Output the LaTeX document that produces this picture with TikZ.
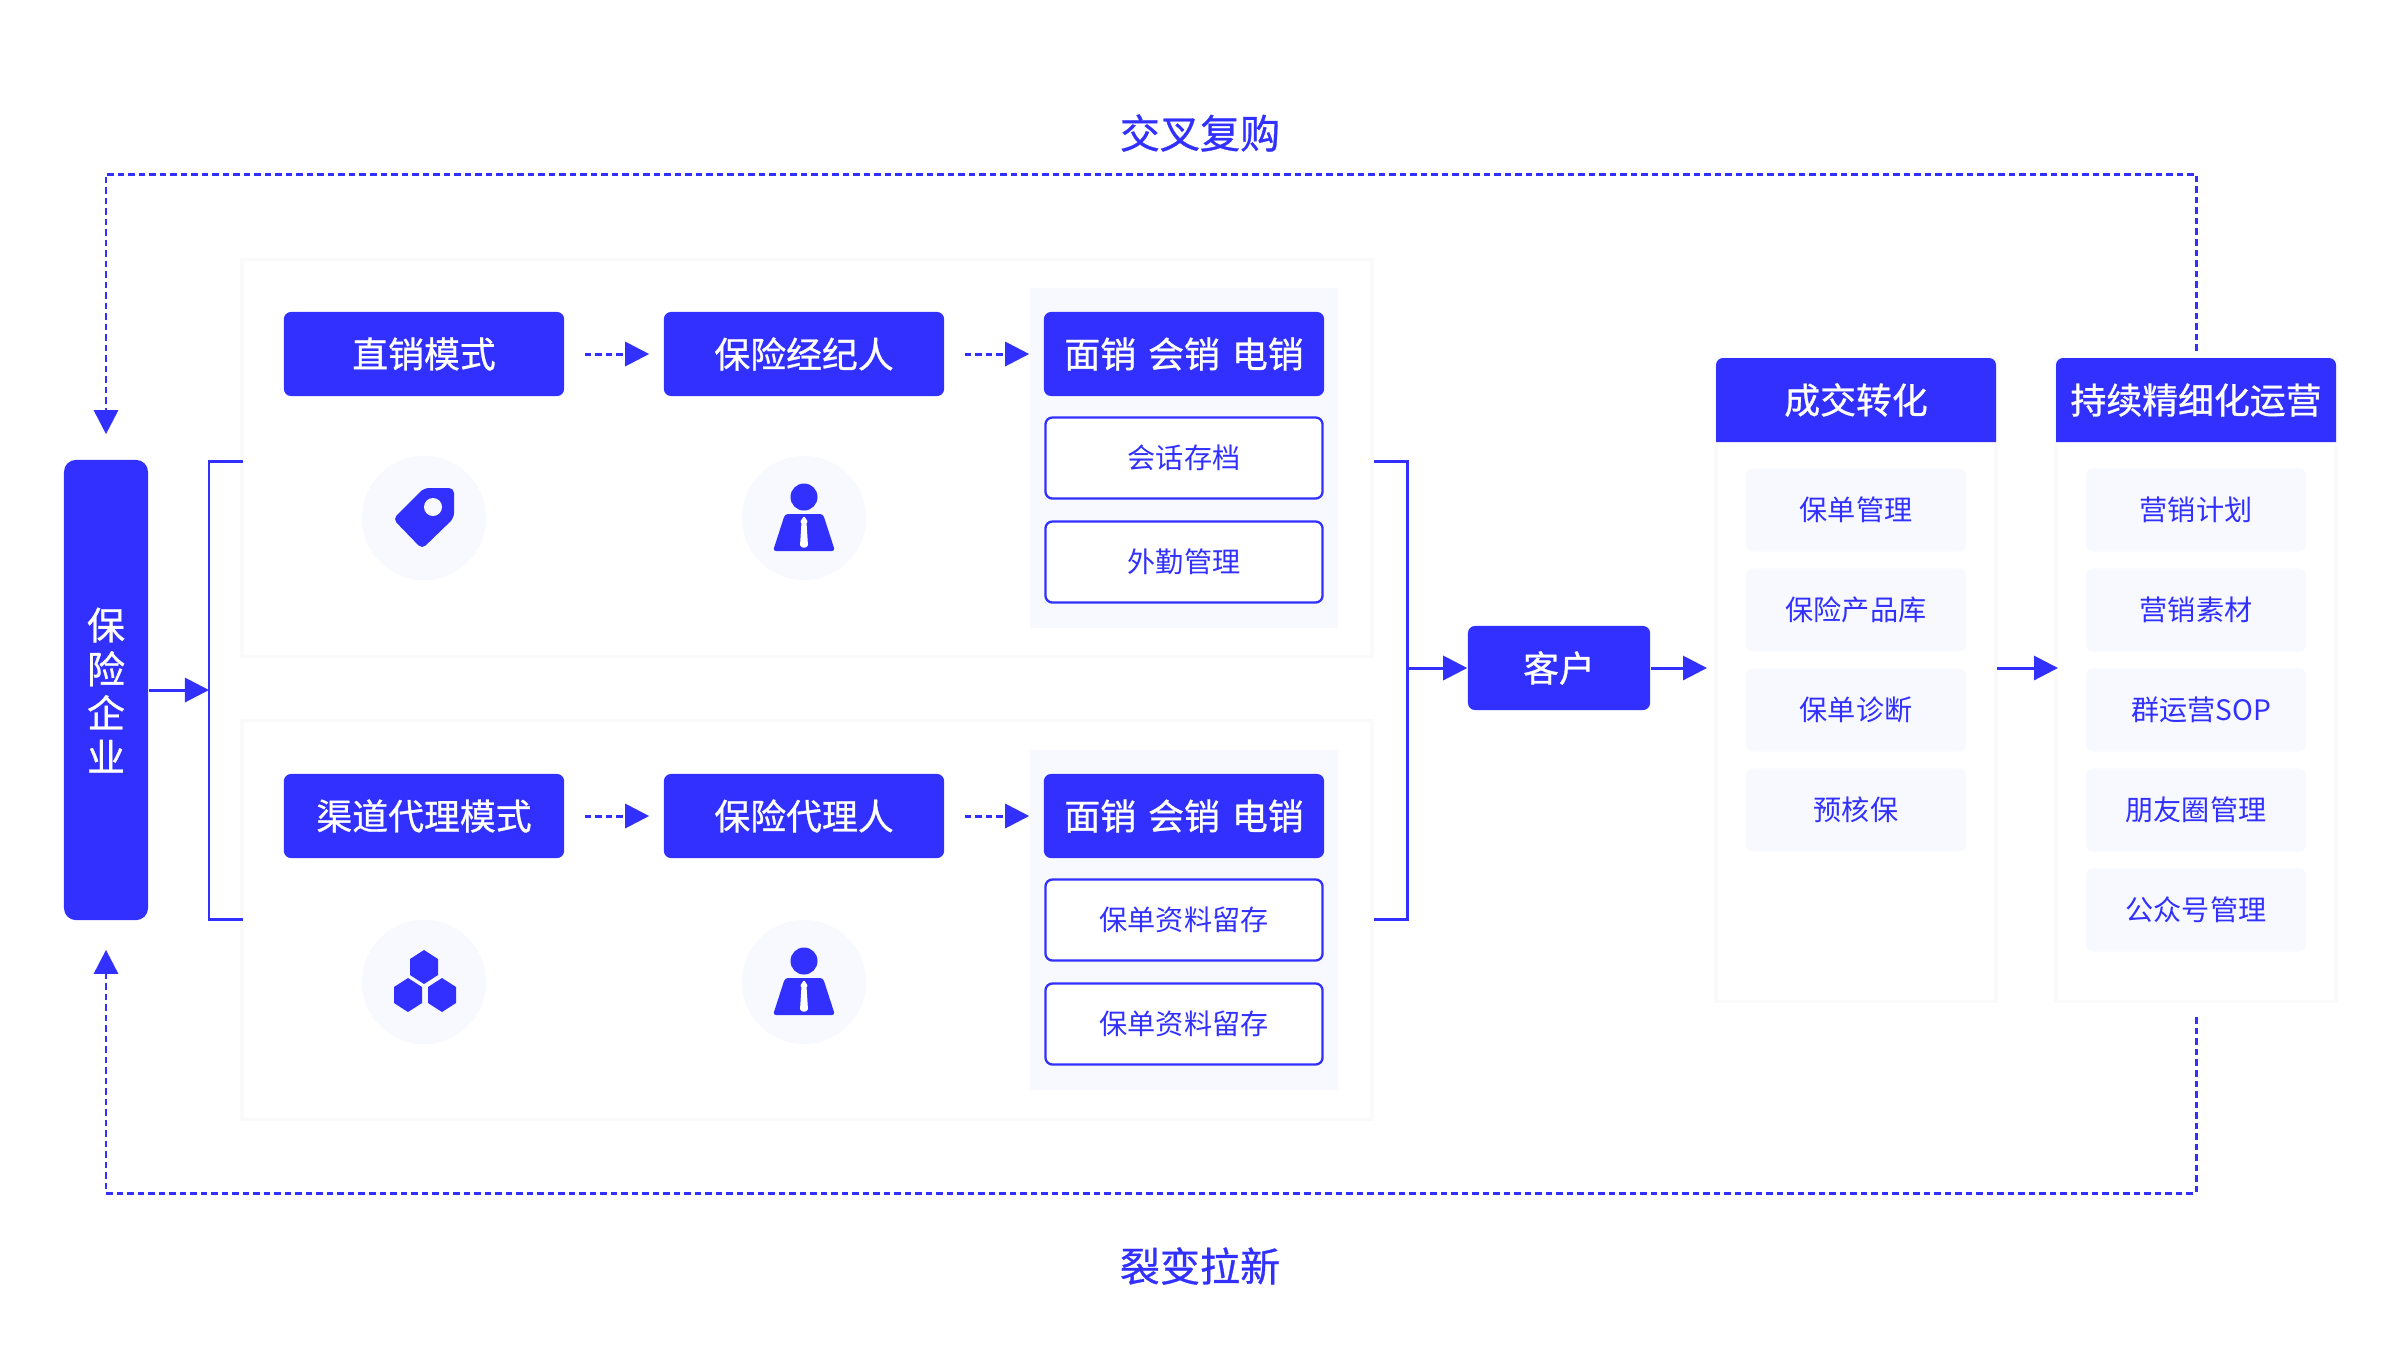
\documentclass[tikz,border=0pt]{standalone}
\usepackage{fontspec}
\setmainfont{Noto Sans CJK SC}
\newfontfamily\medfont[FakeBold=0.8]{Noto Sans CJK SC}
\usetikzlibrary{arrows.meta}
\definecolor{mainblue}{HTML}{3130FF}
\definecolor{paleblue}{HTML}{F8F9FF}
\definecolor{cardedge}{HTML}{FAFAFB}
\begin{document}
\begin{tikzpicture}[
	x=0.01cm, y=-0.01cm,
	bluebox/.style={ rectangle, fill=mainblue, text=white, rounded corners=0.07cm, inner sep=0pt, minimum width=2.8cm, minimum height=0.84cm, font=\medfont\fontsize{10.2}{12}\selectfont },
	linebox/.style={ rectangle, draw=mainblue, line width=0.65pt, fill=white, text=mainblue, rounded corners=0.07cm, inner sep=0pt, minimum width=2.77cm, minimum height=0.81cm, font=\fontsize{8}{10}\selectfont },
	itembox/.style={ rectangle, fill=paleblue, text=mainblue, rounded corners=0.07cm, inner sep=0pt, minimum width=2.2cm, minimum height=0.83cm, font=\fontsize{8}{10}\selectfont },
	panel/.style={ rectangle, fill=paleblue, inner sep=0pt, minimum width=3.08cm },
	card/.style={ rectangle, fill=white, draw=cardedge, line width=1pt, inner sep=0pt },
	headtext/.style={ text=white, inner sep=0pt, font=\medfont\fontsize{10.2}{12}\selectfont },
	title/.style={ text=mainblue, inner sep=0pt, font=\medfont\fontsize{11.4}{14}\selectfont },
	iconbg/.style={ circle, fill=paleblue, inner sep=0pt, minimum size=1.24cm },
	solidline/.style={ draw=mainblue, line width=0.85pt },
	solidarr/.style={ solidline, -{Triangle[length=0.24cm,width=0.24cm]} },
	dashline/.style={ solidarr, dash pattern=on 0.065cm off 0.04cm }
]

\useasboundingbox (0,0) rectangle (2400,1366);

\node at (807,458) (carda) [card,minimum width=11.29cm,minimum height=3.97cm] {};
\node at (807,920) (cardb) [card,minimum width=11.29cm,minimum height=3.99cm] {};
\node at (1856,680) (cola) [card,minimum width=2.8cm,minimum height=6.43cm] {};
\node at (2196,680) (colb) [card,minimum width=2.8cm,minimum height=6.43cm] {};
\node at (1184,458) (panela) [panel,minimum height=3.4cm] {};
\node at (1184,920) (panelb) [panel,minimum height=3.4cm] {};

\node at (106,690) (bar) [bluebox,minimum width=0.84cm,minimum height=4.6cm,rounded corners=0.12cm,align=center,font=\medfont\fontsize{10.8}{12.5}\selectfont] {保\\险\\企\\业};

\node at (424,354) (zhi) [bluebox] {直销模式};
\node at (804,354) (jing) [bluebox] {保险经纪人};
\node at (1184,354) (miana) [bluebox] {面销 \kern0.04cm 会销 \kern0.04cm 电销};
\node at (1184,458) (huihua) [linebox] {会话存档};
\node at (1184,562) (waiqin) [linebox] {外勤管理};

\node at (424,816) (qudao) [bluebox] {渠道代理模式};
\node at (804,816) (daili) [bluebox] {保险代理人};
\node at (1184,816) (mianb) [bluebox] {面销 \kern0.04cm 会销 \kern0.04cm 电销};
\node at (1184,920) (liucuna) [linebox] {保单资料留存};
\node at (1184,1024) (liucunb) [linebox] {保单资料留存};

\node at (1559,668) (kehu) [bluebox,minimum width=1.82cm] {客户};

\fill[mainblue] (1716,442) {[rounded corners=0.07cm] -- (1716,358) -- (1996,358)} -- (1996,442) -- cycle;
\fill[mainblue] (2056,442) {[rounded corners=0.07cm] -- (2056,358) -- (2336,358)} -- (2336,442) -- cycle;
\node at (1856,400) (heada) [headtext] {成交转化};
\node at (2196,400) (headb) [headtext] {持续精细化运营};

\foreach \y/\t in {510/保单管理,610/保险产品库,710/保单诊断,810/预核保}
	\node at (1856,\y) (itema\y) [itembox] {\t};
\foreach \y/\t in {510/营销计划,610/营销素材,710/\kern0.1cm 群运营SOP,810/朋友圈管理,910/公众号管理}
	\node at (2196,\y) (itemb\y) [itembox] {\t};

\node at (1200,133) (fugou) [title] {交叉复购};
\node at (1200,1266) (liebian) [title] {裂变拉新};

\node at (424,518) (icona) [iconbg] {};
\node at (804,518) (iconb) [iconbg] {};
\node at (424,982) (iconc) [iconbg] {};
\node at (804,982) (icond) [iconbg] {};

\fill[mainblue,rounded corners=0.05cm] (424,488) -- (454,488) -- (454,518) -- (422,549) -- (393,519) -- cycle;
\fill[paleblue] (433,507) circle (0.09cm);

\foreach \p/\q in {424/967,408/995,442/995}
	\fill[mainblue] (\p,\q-17) -- (\p+14,\q-8) -- (\p+14,\q+8) -- (\p,\q+17) -- (\p-14,\q+8) -- (\p-14,\q-8) -- cycle;

\foreach \q in {518,982} {
	\fill[mainblue] (804,\q-21) circle (0.135cm);
	\fill[mainblue,rounded corners=0.03cm] (785,\q-4) -- (823,\q-4) -- (835,\q+33) -- (773,\q+33) -- cycle;
	\fill[white,rounded corners=0.01cm] (804,\q-2) -- (808,\q+4) -- (806.5,\q+4) -- (808,\q+28) -- (804,\q+30) -- (800,\q+28) -- (801.5,\q+4) -- (800,\q+4) -- cycle;
}

\coordinate (lefttop) at (243,461);
\coordinate (leftcorn) at (209,461);
\coordinate (leftmid) at (209,690);
\coordinate (leftdown) at (209,919);
\coordinate (leftbot) at (243,919);
\draw[solidline] (lefttop) -- (leftcorn) -- (leftdown) -- (leftbot);
\draw[solidarr] (bar) to (leftmid);

\coordinate (righttop) at (1374,461);
\coordinate (rightcorn) at (1407,461);
\coordinate (rightmid) at (1407,668);
\coordinate (rightdown) at (1407,919);
\coordinate (rightbot) at (1374,919);
\draw[solidline] (righttop) -- (rightcorn) -- (rightdown) -- (rightbot);
\draw[solidarr] (rightmid) to (kehu);

\coordinate (colain) at (1707,668);
\coordinate (colaout) at (1997,668);
\coordinate (colbin) at (2058,668);
\draw[solidarr] (kehu) to (colain);
\draw[solidarr] (colaout) to (colbin);

\foreach \a/\b in {zhi/jing,jing/miana,qudao/daili,daili/mianb}
	\draw[dashline,shorten <=0.2cm,shorten >=0.14cm] (\a) to (\b);

\coordinate (topcorn) at (106,174);
\coordinate (botcorn) at (106,1193);
\draw[dashline,shorten <=0.06cm,shorten >=0.25cm] (colb.north) |- (topcorn) -- (bar.north);
\draw[dashline,shorten <=0.14cm,shorten >=0.29cm] (colb.south) |- (botcorn) -- (bar.south);

\end{tikzpicture}
\end{document}
